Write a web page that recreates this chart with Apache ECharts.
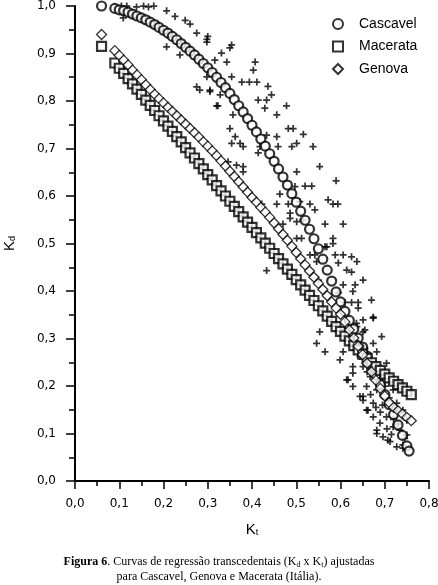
<!DOCTYPE html>
<html>
<head>
<meta charset="utf-8">
<script src="https://cdn.jsdelivr.net/npm/echarts@6/dist/echarts.min.js"></script>
<style>
html,body{margin:0;padding:0;background:#fff;}
#c{width:438px;height:585px;}
</style>
</head>
<body>
<div id="c"></div>
<script>
// ---- data ----
var xTicks = [0, 0.1, 0.2, 0.3, 0.4, 0.5, 0.6, 0.7, 0.8];
var yTicks = [0, 0.1, 0.2, 0.3, 0.4, 0.5, 0.6, 0.7, 0.8, 0.9, 1.0];

var cascavelKt = [0.06,0.09,0.10,0.11,0.12,0.13,0.14,0.15,0.16,0.17,0.18,0.19,0.20,0.21,0.22,0.23,0.24,0.25,0.26,0.27,0.28,0.29,0.30,0.31,0.32,0.33,0.34,0.35,0.36,0.37,0.38,0.39,0.40,0.41,0.42,0.43,0.44,0.45,0.46,0.47,0.48,0.49,0.50,0.51,0.52,0.53,0.54,0.55,0.56,0.57,0.58,0.59,0.60,0.61,0.62,0.63,0.64,0.65,0.66,0.67,0.68,0.69,0.70,0.71,0.72,0.73,0.74,0.75,0.755];
var cascavelKd = [1.0,0.995,0.992,0.99,0.987,0.983,0.979,0.975,0.971,0.966,0.961,0.955,0.949,0.943,0.936,0.929,0.921,0.913,0.905,0.897,0.888,0.879,0.87,0.86,0.85,0.839,0.828,0.816,0.803,0.79,0.777,0.763,0.749,0.735,0.72,0.705,0.689,0.673,0.657,0.64,0.623,0.605,0.587,0.568,0.549,0.53,0.51,0.489,0.467,0.444,0.421,0.398,0.377,0.357,0.338,0.32,0.301,0.282,0.263,0.243,0.223,0.203,0.182,0.161,0.14,0.118,0.096,0.074,0.063];

var macerataKt = [0.06,0.09,0.10,0.11,0.12,0.13,0.14,0.15,0.16,0.17,0.18,0.19,0.20,0.21,0.22,0.23,0.24,0.25,0.26,0.27,0.28,0.29,0.30,0.31,0.32,0.33,0.34,0.35,0.36,0.37,0.38,0.39,0.40,0.41,0.42,0.43,0.44,0.45,0.46,0.47,0.48,0.49,0.50,0.51,0.52,0.53,0.54,0.55,0.56,0.57,0.58,0.59,0.60,0.61,0.62,0.63,0.64,0.65,0.66,0.67,0.68,0.69,0.70,0.71,0.72,0.73,0.74,0.75,0.76];
var macerataKd = [0.915,0.88,0.869,0.858,0.847,0.836,0.825,0.814,0.802,0.791,0.78,0.769,0.758,0.747,0.736,0.725,0.714,0.702,0.691,0.68,0.668,0.657,0.645,0.634,0.622,0.611,0.6,0.589,0.578,0.567,0.556,0.545,0.534,0.523,0.512,0.501,0.49,0.479,0.468,0.457,0.446,0.435,0.424,0.413,0.402,0.391,0.38,0.369,0.358,0.347,0.336,0.325,0.315,0.305,0.295,0.285,0.276,0.267,0.258,0.249,0.241,0.233,0.225,0.217,0.21,0.203,0.196,0.189,0.182];

var genovaKt = [0.06,0.09,0.10,0.11,0.12,0.13,0.14,0.15,0.16,0.17,0.18,0.19,0.20,0.21,0.22,0.23,0.24,0.25,0.26,0.27,0.28,0.29,0.30,0.31,0.32,0.33,0.34,0.35,0.36,0.37,0.38,0.39,0.40,0.41,0.42,0.43,0.44,0.45,0.46,0.47,0.48,0.49,0.50,0.51,0.52,0.53,0.54,0.55,0.56,0.57,0.58,0.59,0.60,0.61,0.62,0.63,0.64,0.65,0.66,0.67,0.68,0.69,0.70,0.71,0.72,0.73,0.74,0.75,0.76];
var genovaKd = [0.94,0.906,0.896,0.886,0.876,0.865,0.855,0.845,0.834,0.824,0.814,0.805,0.796,0.787,0.778,0.769,0.76,0.751,0.742,0.733,0.724,0.714,0.705,0.695,0.685,0.674,0.663,0.652,0.641,0.63,0.619,0.608,0.597,0.587,0.576,0.566,0.555,0.543,0.531,0.519,0.507,0.494,0.481,0.468,0.455,0.442,0.429,0.416,0.403,0.39,0.377,0.364,0.351,0.335,0.318,0.301,0.284,0.266,0.248,0.23,0.212,0.195,0.179,0.165,0.155,0.148,0.141,0.134,0.127];

// measured points (+)
var obsKt = [0.105,0.117,0.139,0.155,0.166,0.178,0.109,0.207,0.226,0.249,0.26,0.275,0.298,0.207,0.237,0.275,0.282,0.305,0.323,0.298,0.3,
0.354,0.35,0.331,0.316,0.343,0.407,0.403,0.298,0.354,0.377,0.394,0.411,0.436,0.305,0.328,0.444,0.414,0.433,0.32,0.478,0.429,0.357,0.456,0.482,0.493,0.35,0.516,0.433,0.362,0.456,0.354,0.373,0.38,0.418,0.459,0.49,0.501,0.538,0.414,0.346,0.365,0.38,0.38,0.501,0.553,0.59,0.52,0.535,0.497,0.463,0.422,0.456,0.482,0.508,0.531,0.542,0.572,0.583,0.594,0.486,0.486,0.47,0.501,0.515,0.565,0.606,0.501,0.512,0.583,0.583,0.565,
0.531,0.542,0.569,0.588,0.606,0.625,0.637,0.546,0.595,0.614,0.625,0.651,0.433,0.55,0.606,0.633,0.628,0.595,0.67,0.61,0.625,0.64,0.64,0.651,0.674,0.637,0.655,0.553,0.546,0.565,0.606,0.599,0.674,0.693,0.682,
0.628,0.617,0.628,0.651,0.659,0.682,0.707,0.727,0.741,0.745,0.674,0.628,0.614,0.644,0.651,0.662,0.674,0.682,0.696,0.712,0.741,0.75,0.704,0.689,0.719,0.727,0.741,0.75,0.704,0.689,0.719,0.734,0.667,0.659,0.682,0.674,0.651,0.644,0.628,0.651,0.636,0.66,0.67,0.69,0.7,0.71,0.695,0.66,0.72,0.73,0.705,0.715,0.69,0.68,0.668,0.642,0.62,0.655,0.61];
var obsKd = [1.0,1.0,0.998,1.0,0.998,1.0,0.975,0.99,0.978,0.97,0.962,0.943,0.924,0.914,0.897,0.83,0.823,0.82,0.79,0.93,0.936,
0.918,0.912,0.901,0.886,0.882,0.882,0.865,0.851,0.851,0.84,0.84,0.84,0.831,0.823,0.813,0.813,0.802,0.802,0.79,0.79,0.785,0.771,0.771,0.742,0.742,0.742,0.73,0.728,0.725,0.725,0.711,0.711,0.704,0.704,0.704,0.704,0.711,0.704,0.691,0.672,0.665,0.662,0.651,0.651,0.662,0.632,0.621,0.621,0.62,0.604,0.583,0.583,0.583,0.588,0.583,0.571,0.592,0.583,0.583,0.564,0.553,0.541,0.546,0.55,0.541,0.541,0.511,0.511,0.511,0.5,0.493,
0.476,0.476,0.493,0.476,0.476,0.472,0.462,0.462,0.459,0.444,0.44,0.423,0.443,0.423,0.413,0.413,0.399,0.396,0.381,0.376,0.376,0.376,0.364,0.339,0.343,0.325,0.318,0.314,0.29,0.272,0.272,0.255,0.29,0.304,0.272,
0.241,0.213,0.199,0.178,0.149,0.107,0.086,0.072,0.076,0.09,0.345,0.227,0.213,0.178,0.17,0.149,0.135,0.1,0.093,0.083,0.069,0.097,0.248,0.213,0.192,0.164,0.149,0.128,0.135,0.122,0.114,0.107,0.22,0.199,0.192,0.164,0.241,0.262,0.283,0.314,0.332,0.26,0.25,0.235,0.2,0.175,0.16,0.23,0.13,0.12,0.11,0.098,0.145,0.155,0.182,0.29,0.3,0.28,0.32];

function pairs(a, b) { var r = []; for (var i = 0; i < a.length; i++) r.push([a[i], b[i]]); return r; }
function fmt(v) { return v.toFixed(1).replace('.', ','); }

var chart = echarts.init(document.getElementById('c'), null, {renderer: 'canvas'});
var plusPath = 'path://M3,0h2v3h3v2h-3v3h-2v-3h-3v-2h3z';
var SANS = '"Liberation Sans", Arial, sans-serif';
var SERIF = '"Liberation Serif", "Times New Roman", serif';

chart.setOption({
  animation: false,
  backgroundColor: '#fff',
  grid: {left: 75, top: 6, width: 354, height: 475, containLabel: false, outerBoundsMode: 'none'},
  legend: {
    orient: 'vertical', left: 327, top: 12,
    itemWidth: 10, itemHeight: 10, itemGap: 8.5,
    data: ['Cascavel', 'Macerata', 'Genova'],
    textStyle: {fontFamily: SANS, fontSize: 14, color: '#000', lineHeight: 14, padding: [0, 0, 0, 11]}
  },
  xAxis: {
    type: 'value', min: 0, max: 0.8, interval: 0.1,
    name: '{k|K}{s|t}', nameLocation: 'middle', nameGap: 41,
    nameTextStyle: {rich: {
      k: {fontFamily: SANS, fontSize: 15, color: '#000'},
      s: {fontFamily: SANS, fontSize: 9, color: '#000', verticalAlign: 'bottom', padding: [6, 0, 0, 0]}
    }},
    axisLine: {lineStyle: {color: '#000', width: 2}},
    axisTick: {length: 8, lineStyle: {color: '#000', width: 1.5}},
    minorTick: {show: true, splitNumber: 2, length: 5, lineStyle: {color: '#000', width: 1.5}},
    axisLabel: {formatter: fmt, margin: 17, fontFamily: '"DejaVu Sans", sans-serif', fontSize: 12, color: '#000'},
    splitLine: {show: false}
  },
  yAxis: {
    type: 'value', min: 0, max: 1, interval: 0.1,
    name: '{k|K}{s|d}', nameLocation: 'middle', nameGap: 58, nameRotate: 90,
    nameTextStyle: {rich: {
      k: {fontFamily: SANS, fontSize: 15, color: '#000'},
      s: {fontFamily: SANS, fontSize: 9, color: '#000', verticalAlign: 'bottom', padding: [6, 0, 0, 0]}
    }},
    axisLine: {lineStyle: {color: '#000', width: 2}},
    axisTick: {length: 9, lineStyle: {color: '#000', width: 1.5}},
    minorTick: {show: true, splitNumber: 2, length: 6, lineStyle: {color: '#000', width: 1.5}},
    axisLabel: {formatter: fmt, margin: 19, fontFamily: '"DejaVu Sans", sans-serif', fontSize: 12, color: '#000'},
    splitLine: {show: false}
  },
  series: [
    {
      name: 'dados', type: 'scatter', data: pairs(obsKt, obsKd),
      symbol: plusPath, symbolSize: 7, z: 1,
      itemStyle: {color: '#000', borderWidth: 0}
    },
    {
      name: 'Cascavel', type: 'scatter', data: pairs(cascavelKt, cascavelKd),
      symbol: 'circle', symbolSize: 9, z: 3,
      itemStyle: {color: '#fff', borderColor: '#000', borderWidth: 2.2}
    },
    {
      name: 'Macerata', type: 'scatter', data: pairs(macerataKt, macerataKd),
      symbol: 'rect', symbolSize: 9, z: 3,
      itemStyle: {color: '#fff', borderColor: '#000', borderWidth: 2.2}
    },
    {
      name: 'Genova', type: 'scatter', data: pairs(genovaKt, genovaKd),
      symbol: 'diamond', symbolSize: 10, z: 3,
      itemStyle: {color: '#fff', borderColor: '#000', borderWidth: 1.3}
    }
  ],
  graphic: [
    {
      type: 'text', x: 219, y: 569,
      style: {
        text: '{b|Figura 6}. Curvas de regressão transcedentais (K{s|d} x K{s|t}) ajustadas\npara Cascavel, Genova e Macerata (Itália).',
        align: 'center', verticalAlign: 'middle',
        fontFamily: SERIF, fontSize: 12, fill: '#000', lineHeight: 15,
        rich: {
          b: {fontFamily: SERIF, fontSize: 12, fontWeight: 'bold', fill: '#000', lineHeight: 15},
          s: {fontFamily: SERIF, fontSize: 8, fill: '#000', verticalAlign: 'bottom', lineHeight: 15, padding: [4, 0, 0, 0]}
        }
      }
    }
  ]
});
</script>
</body>
</html>
